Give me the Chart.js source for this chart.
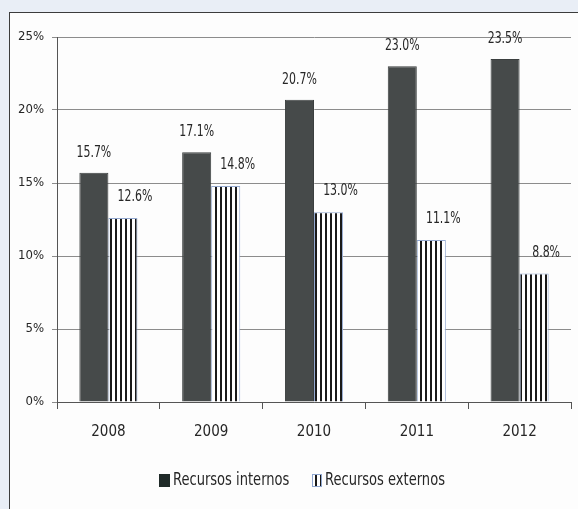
<!DOCTYPE html>
<html>
<head>
<meta charset="utf-8">
<script src="https://cdn.jsdelivr.net/npm/chart.js@4.4.1/dist/chart.umd.min.js"></script>
<style>
  html, body { margin: 0; padding: 0; width: 578px; height: 509px; overflow: hidden; background: #e9eef6; }
  #frame { position: absolute; left: 9px; top: 12px; width: 620px; height: 540px; background: #fdfdfd; border: 1px solid #3c3c3c; }
  #c { position: absolute; left: 0; top: 0; }
</style>
</head>
<body>
<div id="frame"></div>
<canvas id="c" width="578" height="509"></canvas>
<script>
const years = ['2008', '2009', '2010', '2011', '2012'];
const internos = [15.7, 17.1, 20.7, 23.0, 23.5];
const externos = [12.6, 14.8, 13.0, 11.1, 8.8];
const seriesNames = ['Recursos internos', 'Recursos externos'];
const yTicks = [0, 5, 10, 15, 20, 25];

const FONT = '"DejaVu Sans Condensed", "Liberation Sans", sans-serif';
const TEXT = '#262626';

// vertical black/white stripes for the second series
function stripes() {
  const p = document.createElement('canvas');
  p.width = 5; p.height = 4;
  const g = p.getContext('2d');
  g.fillStyle = '#ffffff'; g.fillRect(0, 0, 5, 4);
  g.fillStyle = '#1a1a1a'; g.fillRect(0, 0, 2, 4);
  return g.createPattern(p, 'repeat');
}
const ctxEl = document.getElementById('c');
const stripePattern = stripes();
const darkFill = '#464a4a';

// draw text squeezed horizontally (narrow label face)
function narrowText(ctx, str, x, y, sx) {
  ctx.save();
  ctx.translate(x, y);
  ctx.scale(sx, 1);
  ctx.fillText(str, 0, 0);
  ctx.restore();
}

// value labels above each bar
const valueLabels = {
  id: 'valueLabels',
  afterDatasetsDraw(chart) {
    const ctx = chart.ctx;
    ctx.save();
    ctx.font = '16px ' + FONT;
    ctx.fillStyle = TEXT;
    ctx.textAlign = 'center';
    ctx.textBaseline = 'middle';
    chart.data.datasets.forEach((ds, di) => {
      const meta = chart.getDatasetMeta(di);
      meta.data.forEach((bar, i) => {
        const dx = di === 0 ? 0 : 12;
        const dy = di === 0 ? 20 : 21;
        narrowText(ctx, ds.data[i].toFixed(1) + '%', bar.x + dx, bar.y - dy, 0.76);
      });
    });
    ctx.restore();
  }
};

// legend row under the axis
const legendRow = {
  id: 'legendRow',
  afterDraw(chart) {
    const ctx = chart.ctx;
    ctx.save();
    ctx.font = '17.5px ' + FONT;
    ctx.textBaseline = 'middle';
    ctx.textAlign = 'left';
    const cy = 480;
    // first item
    ctx.fillStyle = '#1f2a28';
    ctx.fillRect(159, 474, 11, 13);
    ctx.fillStyle = TEXT;
    narrowText(ctx, seriesNames[0], 173, cy, 0.83);
    // second item
    ctx.fillStyle = stripePattern;
    ctx.fillRect(312, 474, 10, 13);
    ctx.strokeStyle = '#8fa6cf';
    ctx.lineWidth = 1;
    ctx.strokeRect(312.5, 474.5, 9, 12);
    ctx.fillStyle = TEXT;
    narrowText(ctx, seriesNames[1], 325, cy, 0.83);
    ctx.restore();
  }
};

new Chart(ctxEl, {
  type: 'bar',
  data: {
    labels: years,
    datasets: [
      {
        label: seriesNames[0],
        data: internos,
        backgroundColor: darkFill,
        borderColor: '#3b3f3f',
        borderWidth: 1,
        categoryPercentage: 0.565,
        barPercentage: 1.0
      },
      {
        label: seriesNames[1],
        data: externos,
        backgroundColor: stripePattern,
        borderColor: '#94a9d0',
        borderWidth: 1,
        categoryPercentage: 0.565,
        barPercentage: 1.0
      }
    ]
  },
  options: {
    responsive: false,
    animation: false,
    devicePixelRatio: 1,
    layout: { padding: { left: 0, right: 7, top: 37, bottom: 0 } },
    plugins: {
      legend: { display: false },
      tooltip: { enabled: false }
    },
    scales: {
      x: {
        afterFit(scale) { scale.height = 107; },
        grid: {
          offset: true,
          drawOnChartArea: false,
          drawTicks: true,
          tickLength: 7,
          color: '#555555'
        },
        border: { display: true, color: '#555555', width: 1 },
        ticks: {
          color: TEXT,
          font: { family: FONT, size: 15 },
          padding: 14
        }
      },
      y: {
        min: 0,
        max: 25,
        afterFit(scale) { scale.width = 57; },
        afterBuildTicks(scale) { scale.ticks = yTicks.map(v => ({ value: v })); },
        grid: {
          color: '#8c8c8c',
          lineWidth: 1,
          tickLength: 5
        },
        border: { display: true, color: '#555555', width: 1 },
        ticks: {
          color: TEXT,
          font: { family: FONT, size: 13 },
          padding: 8,
          callback: v => v + '%'
        }
      }
    }
  },
  plugins: [valueLabels, legendRow]
});
</script>
</body>
</html>
